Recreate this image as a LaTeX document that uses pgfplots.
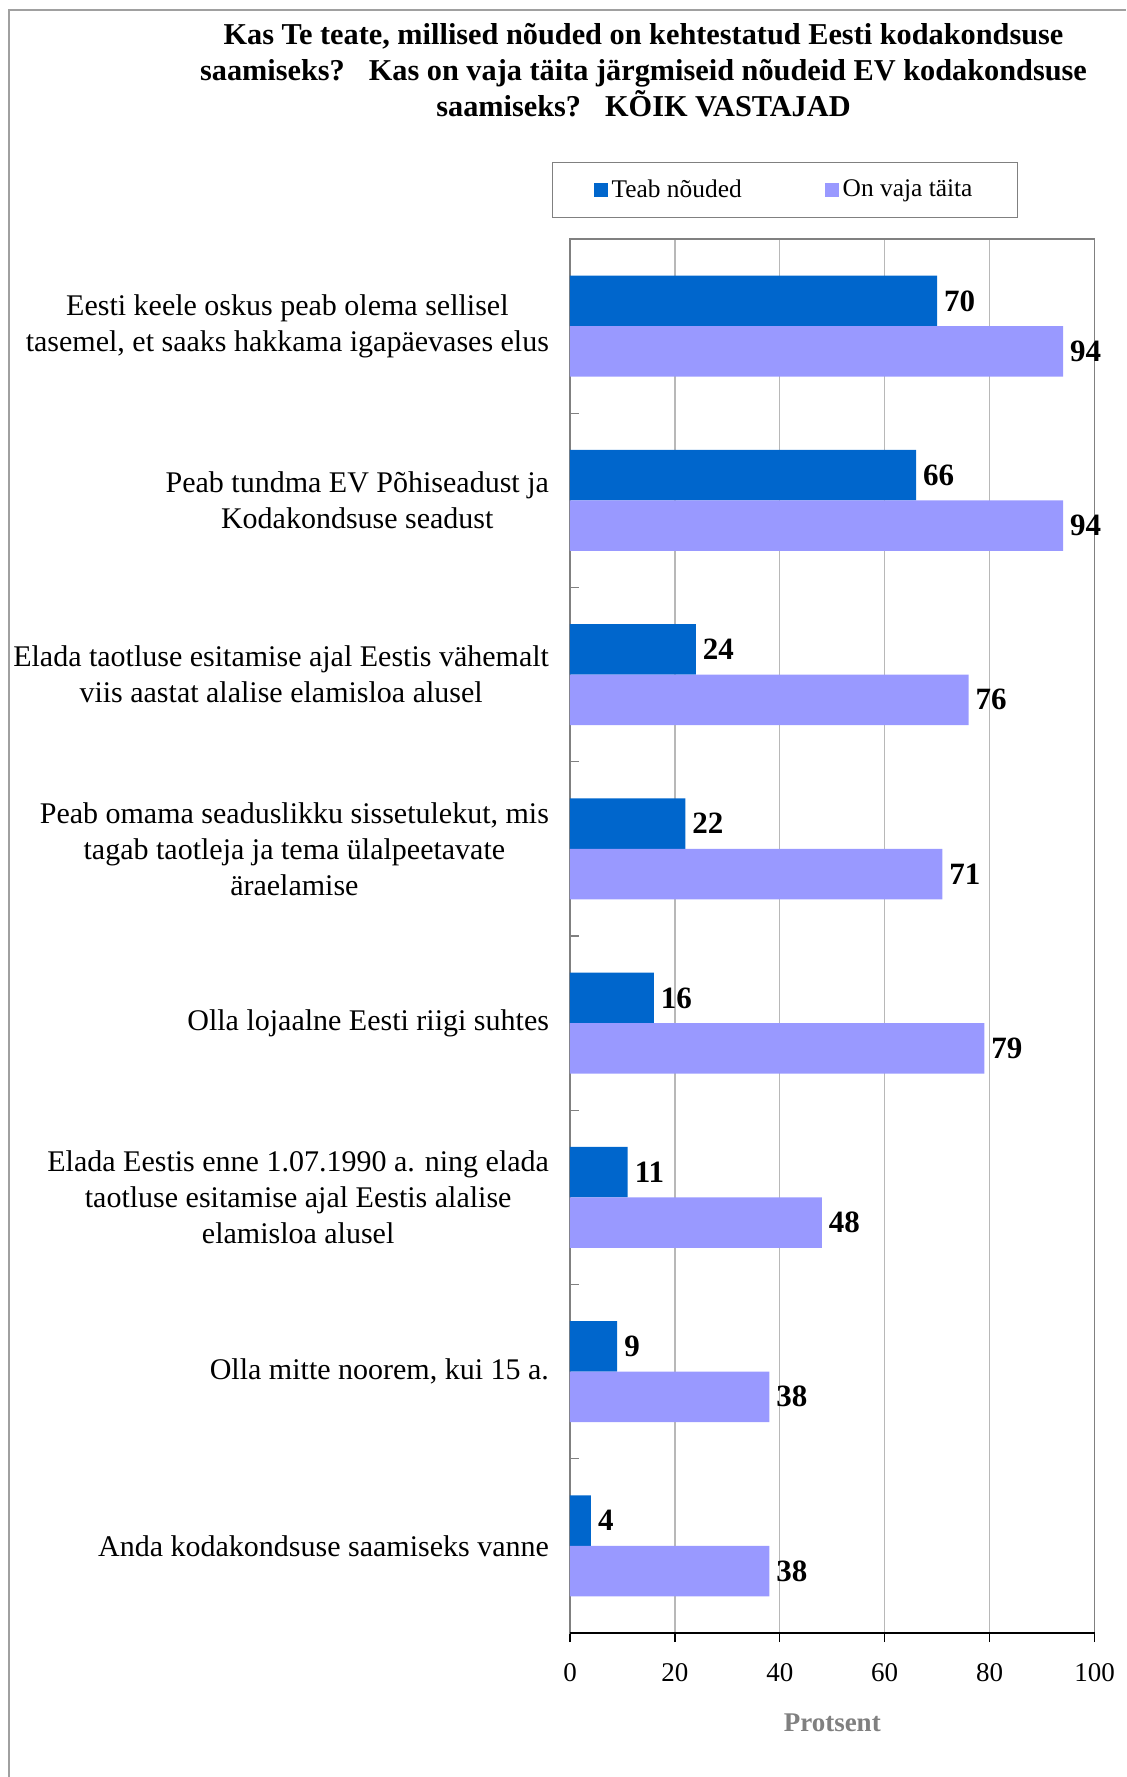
\documentclass[border=0pt]{standalone}
\usepackage{pgfplots}
\pgfplotsset{compat=1.18}
\usepackage{fontspec}
\setmainfont{Liberation Serif}
\definecolor{barblue}{HTML}{0066CC}
\definecolor{barpurple}{HTML}{9999FF}
\definecolor{framegray}{HTML}{A0A0A0}
\definecolor{axisgray}{HTML}{808080}
\definecolor{gridgray}{HTML}{B8B8B8}
\begin{document}
\begin{tikzpicture}[x=1pt,y=1pt]
\useasboundingbox (0,0) rectangle (563,888.5);
\draw[framegray, line width=1pt] (4.3,0) -- (4.3,883.5) -- (563,883.5);
\node[anchor=base, font=\bfseries\fontsize{15.15}{18}\selectfont, inner sep=0pt] at (321.75,866) {Kas Te teate, millised nõuded on kehtestatud Eesti kodakondsuse};
\node[anchor=base, font=\bfseries\fontsize{15.15}{18}\selectfont, inner sep=0pt] at (321.75,848) {saamiseks?\hspace{12pt}Kas on vaja täita järgmiseid nõudeid EV kodakondsuse};
\node[anchor=base, font=\bfseries\fontsize{15.15}{18}\selectfont, inner sep=0pt] at (321.75,830) {saamiseks?\hspace{12pt}KÕIK VASTAJAD};
\begin{axis}[
  at={(285pt,72pt)}, anchor=south west, scale only axis,
  width=262.25pt, height=697pt,
  xbar=0pt, bar width=25.2pt,
  xmin=0, xmax=100, ymin=-0.5, ymax=7.5, y dir=reverse,
  clip=false,
  axis line style={axisgray, line width=0.85pt},
  xtick={0,20,40,60,80,100},
  xtick pos=bottom, xtick align=outside,
  xtick style={black, line width=0.6pt},
  major tick length=4.5pt,
  xmajorgrids, grid style={gridgray, line width=0.6pt},
  xticklabel style={font=\fontsize{13.5}{15}\selectfont, yshift=-7pt},
  /pgf/number format/assume math mode=true,
  ytick={0.5,1.5,...,6.5}, yticklabels={},
  ytick pos=left, ytick align=inside,
  ytick style={axisgray, line width=0.6pt},
  extra y ticks={0,1,2,3,4,5,6,7},
  extra y tick style={major tick length=0pt, ymajorgrids=false,
    yticklabel style={font=\fontsize{15}{18}\selectfont, align=center, xshift=-7pt}},
  extra y tick labels={
    {Eesti keele oskus peab olema sellisel\\tasemel, et saaks hakkama igapäevases elus},
    {Peab tundma EV Põhiseadust ja\\Kodakondsuse seadust},
    {Elada taotluse esitamise ajal Eestis vähemalt\\viis aastat alalise elamisloa alusel},
    {Peab omama seaduslikku sissetulekut, mis\\tagab taotleja ja tema ülalpeetavate\\äraelamise},
    {Olla lojaalne Eesti riigi suhtes},
    {Elada Eestis enne 1.07.1990 a. ning elada\\taotluse esitamise ajal Eestis alalise\\elamisloa alusel},
    {Olla mitte noorem, kui 15 a.},
    {Anda kodakondsuse saamiseks vanne}},
  xlabel={Protsent},
  xlabel style={at={(axis description cs:0.5,0)}, anchor=base, yshift=-49pt,
    font=\bfseries\fontsize{13.5}{16}\selectfont, text=axisgray},
  point meta=x,
  nodes near coords,
  nodes near coords style={font=\bfseries\fontsize{15.5}{18}\selectfont, anchor=west, text=black},
  legend columns=2,
  legend style={at={(-0.0343,1.0552)}, anchor=north west, draw=axisgray, line width=0.6pt,
    font=\fontsize{12.7}{15}\selectfont, inner xsep=20.5pt, inner ysep=6.5pt,
    /tikz/every even column/.append style={column sep=39.5pt}},
  legend image code/.code={\fill[#1] (0pt,-3.5pt) rectangle (7pt,3.5pt);},
]
\addplot[fill=barblue, draw=none, bar shift=12.6pt] coordinates {(70,0) (66,1) (24,2) (22,3) (16,4) (11,5) (9,6) (4,7)};
\addplot[fill=barpurple, draw=none, bar shift=-12.6pt] coordinates {(94,0) (94,1) (76,2) (71,3) (79,4) (48,5) (38,6) (38,7)};
\legend{Teab nõuded, On vaja täita}
\draw[black, line width=0.8pt] (rel axis cs:0,0) -- (rel axis cs:1,0);
\end{axis}
\end{tikzpicture}
\end{document}
